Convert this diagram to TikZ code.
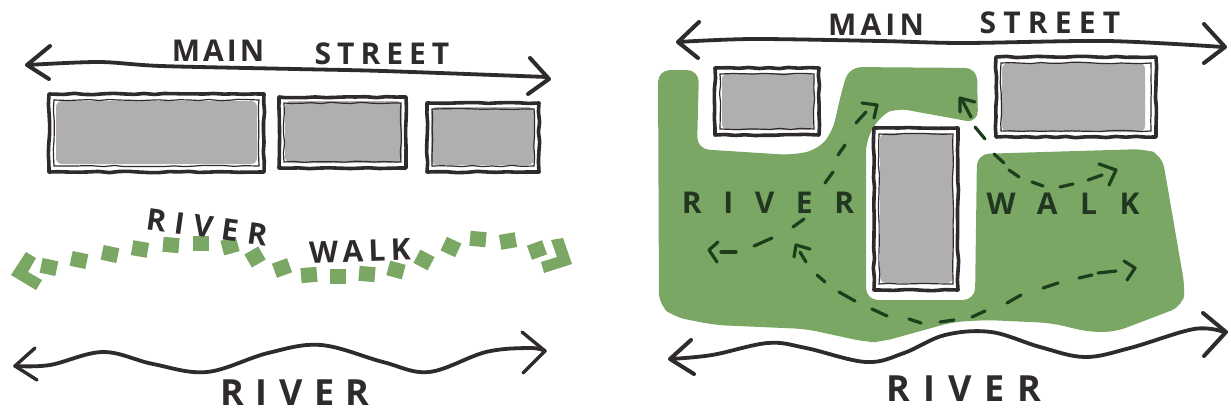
\documentclass[tikz,border=0pt]{standalone}
\usepackage{fontspec}
\setmainfont{Open Sans}
\usetikzlibrary{decorations.pathmorphing}
\definecolor{ink}{HTML}{2E2A2E}
\definecolor{roof}{HTML}{B1AEAE}
\definecolor{park}{HTML}{7AA763}
\definecolor{trail}{HTML}{1D3D1D}
\tikzset{
  x=1pt,y=-1pt,
  wob/.style={decorate,decoration={random steps,segment length=10pt,amplitude=.7pt}},
  outerline/.style={draw=ink,line width=3.6pt,line join=round},
  innerline/.style={draw=ink,line width=1.2pt,wob},
  sketchline/.style={draw=ink,line width=3.8pt,line cap=round,line join=round},
  headline/.style={draw=ink,line width=4pt,line cap=round,line join=round},
  trailline/.style={draw=trail,line width=3.2pt,line cap=round,line join=round},
  dot/.style={fill=park,minimum width=16pt,minimum height=15pt,inner sep=0pt,draw=none},
  hand/.style={text=ink,inner sep=0pt,font=\fontsize{30}{30}\selectfont\bfseries},
  handbig/.style={text=ink,inner sep=0pt,font=\fontsize{36}{36}\selectfont\bfseries},
}
\newcommand{\spc}[2]{\addfontfeature{LetterSpace=#1}#2}
\newcommand{\bldg}[8]{%
  \fill[white] (#1,#2) rectangle (#3,#4);
  \fill[roof,rounded corners=6pt] (#5,#6) rectangle (#7,#8);
  \draw[innerline] (#1+5,#2+6) rectangle (#3-5,#4-6);
  \draw[outerline,wob] (#1,#2) rectangle (#3,#4);
}
\begin{document}
\begin{tikzpicture}
\useasboundingbox (0,0) rectangle (1231,415);
\fill[white] (0,0) rectangle (1231,415);
% ---------- left sketch
\draw[sketchline] plot[smooth,tension=.5] coordinates {(27,65) (99,62) (161,66) (295,69) (383,71) (547,77)};
\draw[headline] (50,46) -- (27,65) -- (49,79);
\draw[headline] (530,58) -- (549,79) -- (528,94);
\node[hand] (lmain) at (218,51) {\spc{10}{MAIN}};
\node[hand] (lstreet) at (382,54) {\spc{20}{STREET}};
\bldg{49}{94}{264}{172}{56}{101}{257}{164}
\bldg{279}{97}{406}{168}{285}{101}{402}{163}
\bldg{427}{103}{539}{172}{431}{107}{534}{165}
% river walk
\foreach \px/\py/\ang in {49/267/-12,79/260/-12,110/254/-12,140/249/-10,171/245/-5,201/243/0,230/246/15,255/257/30,282/268/20,309/275/5,338/276/0,367/274/-5,396/270/-15,424/260/-28,451/247/-25,478/239/-5,508/241/10,537/250/20}{
  \node[dot,rotate=\ang] at (\px,\py) {};
}
\fill[park] (11,275) -- (26,252) -- (36,258) -- (28,272) -- (42,280) -- (36,290) -- cycle;
\fill[park] (551,240) -- (563,238) -- (572,264) -- (544,273) -- (541,262) -- (557,257) -- cycle;
\node[hand,rotate=-8] (lriver) at (207,227) {\spc{30}{RIVER}};
\node[hand,rotate=2] (lwalk) at (360,251) {\spc{18}{WALK}};
\draw[sketchline] plot[smooth,tension=.6] coordinates {(15,366) (50,365) (103,352) (153,364) (207,372) (268,353) (321,345) (383,362) (429,372) (486,352) (530,348) (545,351)};
\draw[headline,line width=3.4pt] (35,348) -- (15,366) -- (37,380);
\draw[headline,line width=3.4pt] (522,332) -- (545,351) -- (523,373);
\node[handbig] (lrivername) at (295,393) {\spc{32}{RIVER}};
% ---------- right sketch
\fill[park,rounded corners=12pt] (658,70) -- (699,70) -- (697,149) -- (791,155) -- (817,150) -- (832,133) -- (842,90) -- (849,67) -- (977,68) -- (978,123) -- (896,108) -- (881,115) -- (866,140) -- (866,300) -- (975,300) -- (977,154) -- (1145,149) -- (1162,155) -- (1185,288) -- (1183,306) -- (1115,332) -- (1089,332) -- (1051,323) -- (987,320) -- (953,322) -- (881,342) -- (866,342) -- (806,329) -- (715,325) -- (674,317) -- (659,305) -- cycle;
\draw[sketchline] plot[smooth,tension=.5] coordinates {(678,42) (753,39) (880,41) (964,43) (1107,41) (1223,47)};
\draw[headline] (699,22) -- (678,42) -- (698,58);
\draw[headline] (1204,24) -- (1225,47) -- (1204,63);
\node[hand] (rmain) at (876,25) {\spc{14}{MAIN}};
\node[hand] (rstreet) at (1050,23) {\spc{24}{STREET}};
\bldg{715}{68}{819}{135}{722}{73}{814}{130}
\bldg{874}{128}{958}{290}{880}{133}{953}{283}
\bldg{996}{57}{1156}{137}{1002}{63}{1145}{132}
% labels on the park
\node[hand,text=trail!70!ink] (rriver) at (768,203) {\spc{72}{RIVER}};
\node[hand,text=trail!70!ink] (rwalk) at (1063,204) {\spc{75}{WALK}};
% trails
\foreach \ax/\ay/\bx/\by in {825/183/833/172,838/155/845/145,856/123/866/112,
  975/127/985/139,994/154/1004/163,1009/170/1019/177,1032/182/1043/186,1060/187/1073/184,1088/180/1102/175,971/117/962/100,
  804/219/793/227,772/238/754/246,736/252/721/252,
  806/262/800/252,817/275/825/282,839/292/855/301,872/309/887/316,909/319/921/323,940/322/954/320,972/317/985/311,1007/303/1021/295,1043/288/1058/283,1079/278/1092/275,1098/273/1116/271}{
  \draw[trailline] (\ax,\ay) -- (\bx,\by);
}
\draw[trailline] (862,103) -- (877,105) -- (874,118);
\draw[trailline] (1099,164) -- (1116,170) -- (1109,185);
\draw[trailline] (960,112) -- (960,98) -- (975,102);
\draw[trailline] (718,242) -- (709,250) -- (717,262);
\draw[trailline] (794,257) -- (796,245) -- (810,249);
\draw[trailline] (1124,261) -- (1135,268) -- (1127,280);
% river
\draw[sketchline] plot[smooth,tension=.6] coordinates {(670,359) (712,355) (768,343) (806,348) (866,362) (904,353) (945,335) (991,332) (1040,347) (1085,357) (1130,348) (1194,329) (1224,332)};
\draw[headline] (691,340) -- (670,359) -- (694,374);
\draw[headline] (1203,313) -- (1226,332) -- (1204,356);
\node[handbig] (rrivername) at (964,389) {\spc{36}{RIVER}};
\end{tikzpicture}
\end{document}
